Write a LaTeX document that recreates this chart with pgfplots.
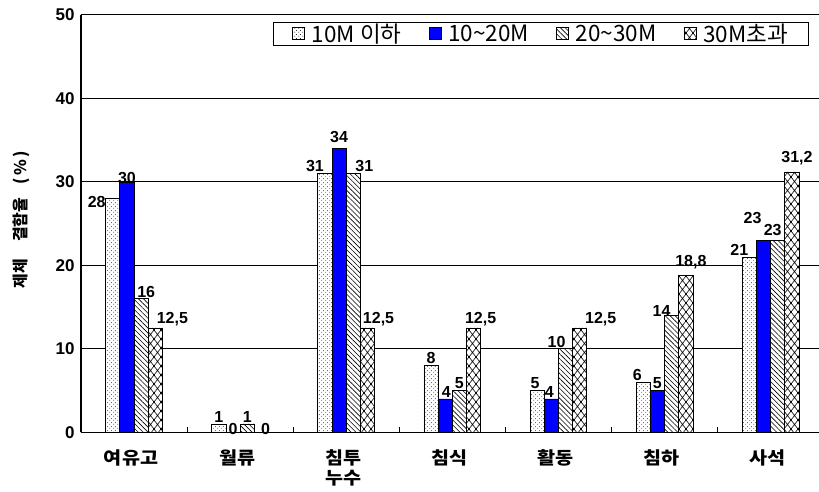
\documentclass[border=0pt]{standalone}
\usepackage{fontspec}
\setmainfont{Liberation Sans}
\newfontfamily\krfont{Noto Sans CJK KR}
\newfontfamily\krwide{Noto Sans CJK KR}[FakeStretch=1.12]
\usepackage{pgfplots}
\pgfplotsset{compat=1.18}
\usepackage{pgfplotstable}
\usetikzlibrary{patterns,patterns.meta,calc}

\definecolor{barblue}{RGB}{0,0,255}

% fill patterns of the four size classes
\tikzdeclarepattern{name=sdots, type=uncolored,
  bottom left={(0pt,0pt)}, top right={(3.5pt,3.5pt)}, tile size={(3.5pt,3.5pt)},
  code={\fill (0.9pt,0.9pt) circle (0.5pt); \fill (2.65pt,2.65pt) circle (0.5pt);}}
\tikzdeclarepattern{name=dcross, type=uncolored,
  bottom left={(-1pt,-1pt)}, top right={(8pt,10pt)}, tile size={(7pt,9pt)},
  code={\draw[line width=0.6pt] (-0.5pt,-0.643pt) -- (7.5pt,9.643pt) (-0.5pt,9.643pt) -- (7.5pt,-0.643pt);}}

% x = category index, y = defect rate (%), dx/dy = label offsets (pt)
\pgfplotstableread{
x y dx dy
0 28 -16 -11
1 1 0 0
2 31 -10 0
3 8 0 0
4 5 -2 0
5 6 -6 0
6 21 -10 0
}\tabA
\pgfplotstableread{
x y dx dy
0 30 0 -3
1 0 0 -4
2 34 0 4
3 4 1 0
4 4 -2 0
5 5 0 0
6 23 -11 15
}\tabB
\pgfplotstableread{
x y dx dy
0 16 5 0
1 1 0 0
2 31 11 0
3 5 0 0
4 10 -9 0
5 14 -10 -3
6 23 -5 3
}\tabC
\pgfplotstableread{
x y dx dy
0 12.5 17 0
1 0 4 -4
2 12.5 11 0
3 12.5 7 0
4 12.5 21 0
5 18.8 5 5
6 31.2 5 5
}\tabD

\pgfplotsset{
  lbl/.style={
    visualization depends on={\thisrow{dx}\as\dx},
    visualization depends on={\thisrow{dy}\as\dy},
    nodes near coords={\pgfmathprintnumber[fixed,precision=1,use comma]{\pgfplotspointmeta}},
    nodes near coords style={font=\fontsize{16}{18}\selectfont\bfseries, text=black,
      inner sep=1.2pt, anchor=south, xshift=\dx pt, yshift=\dy pt},
  },
  sq/.style={legend image code/.code={\draw[##1] (0pt,-5pt) rectangle (12pt,7pt);}},
}

\begin{document}
\begin{tikzpicture}
\begin{axis}[
  name=main,
  scale only axis, width=738pt, height=417.3pt,
  xmin=-0.5, xmax=6.456, ymin=0, ymax=50,
  enlarge x limits=false, enlarge y limits=false,
  ybar=0pt, bar width=0.134,
  axis x line*=bottom, axis y line*=left,
  axis line style={black, line width=1.3pt},
  ymajorgrids, major grid style={black, line width=1pt},
  ytick={0,10,...,50},
  xtick={0,...,6},
  xticklabels={여유고, 월류, {침투\\누수}, 침식, 활동, 침하, 사석},
  minor xtick={0.5,1.5,...,5.5},
  major tick length=0pt, minor tick length=5pt, tick align=inside,
  minor tick style={black, line width=0.8pt},
  /pgf/number format/assume math mode=true,
  yticklabel style={font=\fontsize{17}{19}\selectfont\bfseries, xshift=-3pt},
  xticklabel style={font=\krwide\bfseries\fontsize{17.5}{19.5}\selectfont, align=center,
    xshift=-3pt, yshift=-14pt},
  every axis y label/.style={at={(axis description cs:-0.0813,0.51)}, anchor=center, rotate=90},
  ylabel={\krfont\bfseries\fontsize{16}{18}\selectfont 제체\hspace{17pt}결함율\hspace{13pt}(\,\%\,)},
  legend columns=4,
  legend cell align=left,
  legend style={at={(axis description cs:0.9865,0.9832)}, anchor=north east,
    draw=black, line width=1.2pt, inner xsep=19pt, inner ysep=0pt,
    font=\krfont\fontsize{22.5}{23}\selectfont,
    nodes={inner sep=1.5pt},
    /tikz/every odd column/.append style={column sep=5pt},
    /tikz/every even column/.append style={column sep=26pt}},
]
\addplot[lbl, sq, draw=black, line width=0.8pt, preaction={fill=white}, pattern=sdots]
  table[x=x,y=y]{\tabA};
\addlegendentry{10M 이하}
\addplot[lbl, sq, draw=black, line width=0.8pt, fill=barblue]
  table[x=x,y=y]{\tabB};
\addlegendentry{10\textasciitilde20M}
\addplot[lbl, sq, draw=black, line width=0.8pt, preaction={fill=white},
  pattern={Lines[angle=-45,distance=3.5pt,line width=0.6pt]}]
  table[x=x,y=y]{\tabC};
\addlegendentry{20\textasciitilde30M}
\addplot[lbl, sq, draw=black, line width=0.8pt, preaction={fill=white}, pattern=dcross]
  table[x=x,y=y]{\tabD};
\addlegendentry{30M초과}
\end{axis}
\pgfresetboundingbox
\path ($(main.south west)+(-81pt,-59.7pt)$) rectangle ($(main.south west)+(738pt,432.3pt)$);
\end{tikzpicture}
\end{document}
